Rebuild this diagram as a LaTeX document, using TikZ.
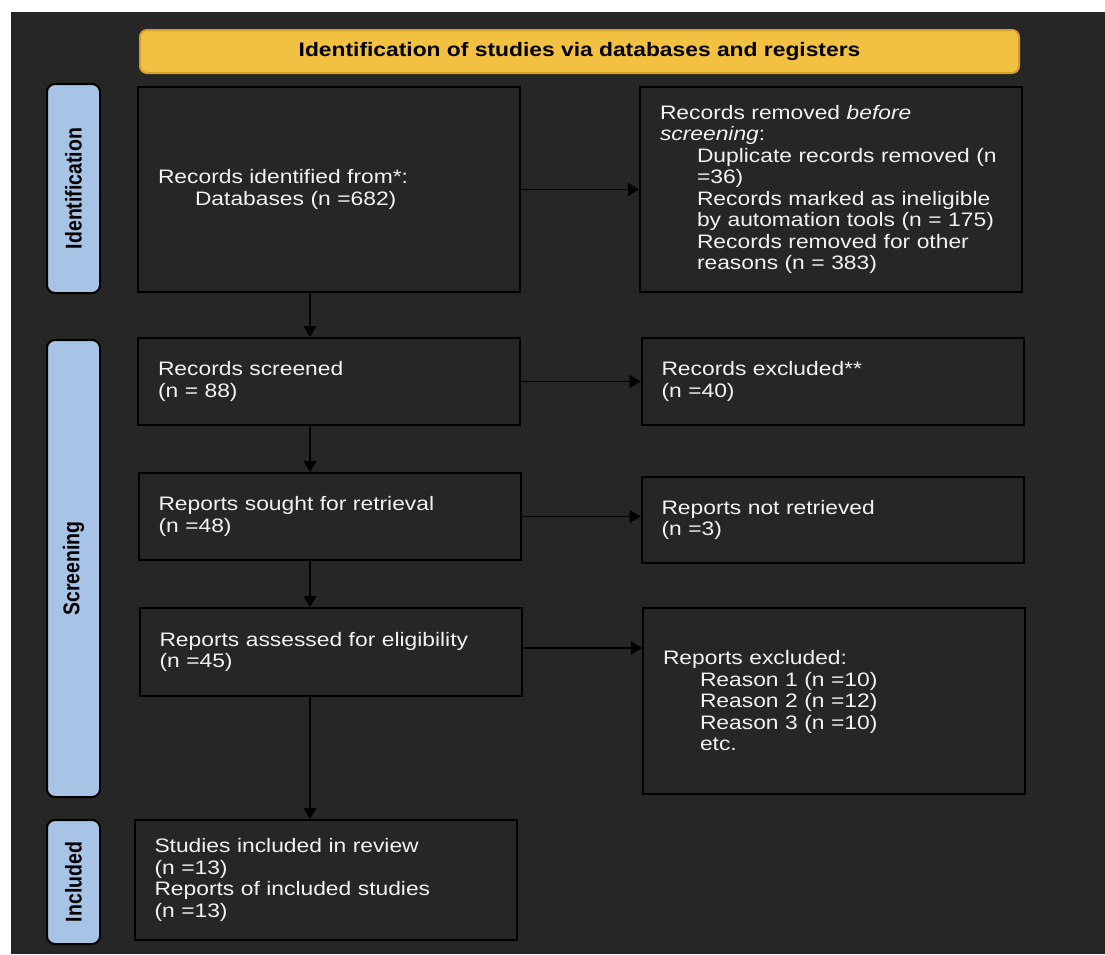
\documentclass[tikz,border=0pt]{standalone}
\usepackage{graphicx}
\usepackage{fontspec}
\setmainfont[FakeStretch=1.17]{Liberation Sans}
\newfontfamily\sidefont{Liberation Sans}
\usepackage{tikz}
\usetikzlibrary{arrows.meta}
\definecolor{canvas}{RGB}{38,38,38}
\definecolor{headfill}{RGB}{243,193,66}
\definecolor{headline}{RGB}{212,160,42}
\definecolor{sidefill}{RGB}{167,196,230}
\definecolor{boxtext}{RGB}{242,242,242}
\newcommand{\sidetext}[1]{\scalebox{1}[1.17]{#1}}

\begin{document}
\begin{tikzpicture}[x=1pt, y=-1pt,
  header/.style={draw=headline, fill=headfill, line width=2pt, rounded corners=7pt,
                 minimum width=879pt, minimum height=43pt,
                 font=\fontsize{19.5}{21.5}\selectfont\bfseries},
  side/.style={draw=black, fill=sidefill, line width=2pt, rounded corners=8pt,
               rotate=90, minimum height=53pt, inner sep=0pt,
               font=\sidefont\fontsize{19.5}{21.5}\selectfont\bfseries},
  flowbox/.style={draw=black, fill=canvas, line width=2pt, text=boxtext,
                  text width=342pt, inner xsep=20pt, align=left,
                  font=\fontsize{19.5}{21.5}\selectfont},
  arrow/.style={-{Triangle[length=11pt, width=13pt]}, line width=1.2pt, color=black}
]
\fill[white] (0,0) rectangle (1105,954);
\useasboundingbox (0,0) rectangle (1105,954);
\fill[canvas] (11,12) rectangle (1105,954);

% Header
\node[header] (head) at (579.5,51.5) {Identification of studies via databases and registers};

% Side labels
\node[side, minimum width=209pt] (sideid) at (73.5,188.5) {\sidetext{Identification}};
\node[side, minimum width=457pt] (sidescr) at (73.5,568.5) {\sidetext{Screening}};
\node[side, minimum width=124pt] (sideinc) at (73.5,882) {\sidetext{Included}};

% Identification
\node[flowbox, minimum height=205pt] (identified) at (329,189.5) {Records identified from*:\\
  \hspace*{37pt}Databases (n =682)};
\node[flowbox, minimum height=205pt] (removed) at (831,189.5) {Records removed \textit{before}\\
  \textit{screening}:\\
  \hspace*{37pt}Duplicate records removed (n\\
  \hspace*{37pt}=36)\\
  \hspace*{37pt}Records marked as ineligible\\
  \hspace*{37pt}by automation tools (n = 175)\\
  \hspace*{37pt}Records removed for other\\
  \hspace*{37pt}reasons (n = 383)};

% Screening
\node[flowbox, minimum height=87pt] (screened) at (329,381.5) {Records screened\\(n = 88)};
\node[flowbox, minimum height=87pt] (excluded) at (832.5,381.5) {Records excluded**\\(n =40)};
\node[flowbox, minimum height=87pt] (sought) at (329.5,516.5) {Reports sought for retrieval\\(n =48)};
\node[flowbox, minimum height=86pt] (notretrieved) at (832.5,520) {Reports not retrieved\\(n =3)};
\node[flowbox, minimum height=88pt] (assessed) at (330.5,652) {Reports assessed for eligibility\\(n =45)};
\node[flowbox, minimum height=186pt] (reportsexcl) at (834,701) {Reports excluded:\\
  \hspace*{37pt}Reason 1 (n =10)\\
  \hspace*{37pt}Reason 2 (n =12)\\
  \hspace*{37pt}Reason 3 (n =10)\\
  \hspace*{37pt}etc.};

% Included
\node[flowbox, minimum height=120pt] (included) at (325.5,880) {Studies included in review\\
  (n =13)\\
  Reports of included studies\\
  (n =13)};

% Arrows
\coordinate (spine) at (310,0);
\draw[arrow] (identified.south -| spine) -- (screened.north -| spine);
\draw[arrow] (screened.south -| spine) -- (sought.north -| spine);
\draw[arrow] (sought.south -| spine) -- (assessed.north -| spine);
\draw[arrow] (assessed.south -| spine) -- (included.north -| spine);
\draw[arrow] (identified.east) -- (removed.west);
\draw[arrow] (screened.east) -- (excluded.west);
\draw[arrow] (sought.east) -- (sought.east -| notretrieved.west);
\draw[arrow] ([yshift=4pt]assessed.east) -- ([yshift=4pt]assessed.east -| reportsexcl.west);

\end{tikzpicture}
\end{document}
